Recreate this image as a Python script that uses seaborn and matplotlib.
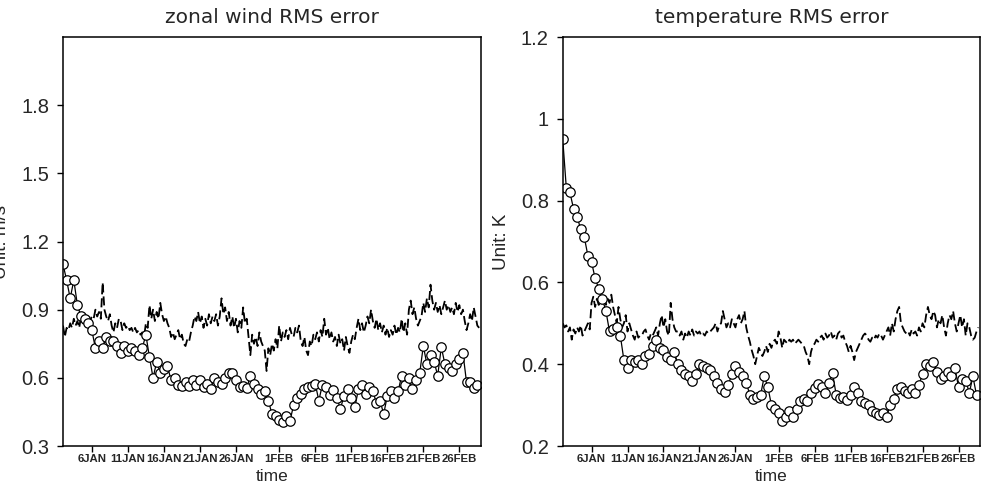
import pandas as pd
import matplotlib.pyplot as plt
import seaborn as sns

# time axis: forecasts (dashed) every 6h, analysis (circles) every 12h, from 2 Jan
start = "2001-01-02"
tick_dates = ["2001-01-06", "2001-01-11", "2001-01-16", "2001-01-21", "2001-01-26",
              "2001-02-01", "2001-02-06", "2001-02-11", "2001-02-16", "2001-02-21", "2001-02-26"]
tick_labels = ["6JAN", "11JAN", "16JAN", "21JAN", "26JAN",
               "1FEB", "6FEB", "11FEB", "16FEB", "21FEB", "26FEB"]

# zonal wind RMS error (m/s)
u_dash = [0.83, 0.78, 0.82, 0.81, 0.84, 0.82, 0.86, 0.83, 0.85, 0.82, 0.87, 0.84,
          0.86, 0.84, 0.88, 0.85, 0.87, 0.86, 0.90, 0.87, 0.89, 0.86, 1.02, 0.90,
          0.87, 0.85, 0.88, 0.83, 0.80, 0.84, 0.82, 0.86, 0.85, 0.81, 0.84, 0.82,
          0.83, 0.81, 0.82, 0.80, 0.82, 0.80, 0.81, 0.79, 0.80, 0.78, 0.84, 0.82,
          0.92, 0.86, 0.90, 0.85, 0.89, 0.86, 0.93, 0.88, 0.85, 0.87, 0.84, 0.82,
          0.78, 0.80, 0.77, 0.79, 0.81, 0.77, 0.79, 0.75, 0.74, 0.77, 0.76, 0.80,
          0.83, 0.87, 0.85, 0.89, 0.84, 0.87, 0.82, 0.86, 0.83, 0.88, 0.84, 0.87,
          0.85, 0.88, 0.83, 0.87, 0.95, 0.88, 0.91, 0.85, 0.89, 0.83, 0.87, 0.82,
          0.86, 0.80, 0.85, 0.82, 0.91, 0.84, 0.86, 0.78, 0.70, 0.79, 0.75, 0.78,
          0.74, 0.80, 0.76, 0.74, 0.72, 0.63, 0.73, 0.70, 0.75, 0.72, 0.77, 0.73,
          0.83, 0.76, 0.80, 0.78, 0.81, 0.77, 0.82, 0.79, 0.78, 0.82, 0.80, 0.83,
          0.76, 0.74, 0.78, 0.72, 0.70, 0.76, 0.74, 0.79, 0.77, 0.80, 0.76, 0.81,
          0.78, 0.86, 0.79, 0.82, 0.77, 0.80, 0.76, 0.78, 0.74, 0.79, 0.75, 0.77,
          0.72, 0.78, 0.74, 0.71, 0.76, 0.79, 0.77, 0.82, 0.86, 0.81, 0.84, 0.80,
          0.83, 0.87, 0.84, 0.90, 0.85, 0.82, 0.86, 0.81, 0.84, 0.80, 0.83, 0.79,
          0.82, 0.78, 0.81, 0.79, 0.83, 0.79, 0.82, 0.80, 0.86, 0.80, 0.84, 0.79,
          0.90, 0.94, 0.88, 0.91, 0.86, 0.83, 0.85, 0.87, 0.93, 0.89, 0.95, 0.91,
          1.01, 0.94, 0.90, 0.93, 0.89, 0.92, 0.88, 0.91, 0.94, 0.90, 0.92, 0.89,
          0.91, 0.88, 0.93, 0.89, 0.92, 0.88, 0.90, 0.85, 0.81, 0.84, 0.88, 0.85,
          0.91, 0.87, 0.83, 0.82]
u_circ = [1.10, 1.03, 0.95, 1.03, 0.92, 0.87, 0.86, 0.84, 0.81, 0.73,
          0.76, 0.73, 0.78, 0.76, 0.76, 0.74, 0.71, 0.74, 0.72, 0.73,
          0.72, 0.70, 0.73, 0.79, 0.69, 0.60, 0.67, 0.62, 0.64, 0.65,
          0.59, 0.60, 0.57, 0.565, 0.58, 0.565, 0.59, 0.57, 0.59, 0.56,
          0.575, 0.55, 0.60, 0.58, 0.575, 0.60, 0.62, 0.62, 0.59, 0.56,
          0.565, 0.555, 0.61, 0.575, 0.55, 0.53, 0.54, 0.50, 0.44, 0.43,
          0.415, 0.405, 0.43, 0.41, 0.48, 0.51, 0.53, 0.55, 0.56, 0.565,
          0.575, 0.50, 0.57, 0.56, 0.525, 0.545, 0.51, 0.465, 0.52, 0.55,
          0.51, 0.47, 0.55, 0.57, 0.53, 0.56, 0.54, 0.49, 0.50, 0.44,
          0.52, 0.54, 0.51, 0.54, 0.61, 0.57, 0.60, 0.55, 0.59, 0.62,
          0.74, 0.66, 0.70, 0.67, 0.61, 0.735, 0.66, 0.645, 0.63, 0.66,
          0.685, 0.71, 0.58, 0.58, 0.555, 0.57]

# temperature RMS error (K)
t_dash = [0.50, 0.49, 0.495, 0.48, 0.49, 0.46, 0.485, 0.475, 0.49, 0.48, 0.495, 0.47,
          0.48, 0.49, 0.50, 0.485, 0.55, 0.565, 0.54, 0.56, 0.545, 0.565, 0.55, 0.56,
          0.545, 0.56, 0.55, 0.57, 0.54, 0.52, 0.50, 0.54, 0.51, 0.49, 0.50, 0.52,
          0.48, 0.50, 0.485, 0.47, 0.46, 0.48, 0.465, 0.47, 0.47, 0.48, 0.485, 0.47,
          0.46, 0.475, 0.47, 0.48, 0.49, 0.47, 0.50, 0.52, 0.49, 0.51, 0.48, 0.47,
          0.55, 0.51, 0.49, 0.48, 0.48, 0.47, 0.48, 0.46, 0.475, 0.465, 0.48, 0.47,
          0.485, 0.47, 0.48, 0.475, 0.48, 0.47, 0.475, 0.47, 0.48, 0.475, 0.48, 0.485,
          0.49, 0.50, 0.48, 0.495, 0.50, 0.53, 0.51, 0.49, 0.50, 0.49, 0.51, 0.50,
          0.49, 0.51, 0.52, 0.50, 0.51, 0.53, 0.49, 0.47, 0.455, 0.435, 0.42, 0.40,
          0.42, 0.44, 0.43, 0.42, 0.43, 0.445, 0.43, 0.45, 0.44, 0.455, 0.46, 0.45,
          0.48, 0.465, 0.44, 0.46, 0.455, 0.45, 0.46, 0.455, 0.46, 0.45, 0.455, 0.46,
          0.455, 0.45, 0.445, 0.43, 0.42, 0.40, 0.43, 0.445, 0.45, 0.46, 0.455, 0.465,
          0.47, 0.46, 0.475, 0.465, 0.47, 0.48, 0.465, 0.47, 0.46, 0.475, 0.48, 0.465,
          0.47, 0.455, 0.445, 0.43, 0.445, 0.43, 0.41, 0.43, 0.44, 0.45, 0.46, 0.47,
          0.475, 0.47, 0.46, 0.455, 0.465, 0.46, 0.47, 0.465, 0.475, 0.47, 0.46, 0.47,
          0.48, 0.49, 0.47, 0.50, 0.48, 0.51, 0.53, 0.54, 0.50, 0.49, 0.48, 0.475,
          0.48, 0.47, 0.485, 0.475, 0.48, 0.47, 0.49, 0.48, 0.50, 0.49, 0.52, 0.54,
          0.52, 0.51, 0.53, 0.52, 0.49, 0.51, 0.50, 0.52, 0.49, 0.47, 0.50, 0.52,
          0.51, 0.53, 0.50, 0.48, 0.50, 0.52, 0.49, 0.51, 0.47, 0.50, 0.49, 0.47,
          0.46, 0.465, 0.48, 0.49]
t_circ = [0.95, 0.83, 0.82, 0.78, 0.76, 0.73, 0.71, 0.665, 0.65, 0.61,
          0.585, 0.56, 0.53, 0.48, 0.485, 0.49, 0.47, 0.41, 0.39, 0.41,
          0.405, 0.41, 0.40, 0.42, 0.425, 0.445, 0.46, 0.44, 0.435, 0.418,
          0.41, 0.43, 0.40, 0.385, 0.375, 0.37, 0.36, 0.375, 0.40, 0.395,
          0.39, 0.385, 0.37, 0.355, 0.34, 0.333, 0.35, 0.375, 0.395, 0.38,
          0.37, 0.355, 0.325, 0.316, 0.32, 0.325, 0.37, 0.345, 0.30, 0.29,
          0.28, 0.262, 0.272, 0.285, 0.27, 0.29, 0.31, 0.315, 0.31, 0.33,
          0.343, 0.352, 0.345, 0.33, 0.355, 0.378, 0.325, 0.318, 0.32, 0.312,
          0.325, 0.345, 0.33, 0.31, 0.305, 0.30, 0.285, 0.28, 0.276, 0.28,
          0.27, 0.30, 0.315, 0.34, 0.345, 0.335, 0.33, 0.34, 0.33, 0.35,
          0.375, 0.40, 0.395, 0.406, 0.382, 0.365, 0.37, 0.382, 0.37, 0.39,
          0.345, 0.365, 0.36, 0.33, 0.37, 0.325]

u_ticks = [0.3, 0.6, 0.9, 1.2, 1.5, 1.8]
u_ticklabels = ["0.3", "0.6", "0.9", "1.2", "1.5", "1.8"]
t_ticks = [0.2, 0.4, 0.6, 0.8, 1.0, 1.2]
t_ticklabels = ["0.2", "0.4", "0.6", "0.8", "1", "1.2"]

sns.set_style("ticks")
plt.rcParams["font.family"] = ["Liberation Sans", "DejaVu Sans"]

fig = plt.figure(figsize=(9.89, 4.98), dpi=100)
ax1 = fig.add_axes([0.0637, 0.1044, 0.4226, 0.8213])
ax2 = fig.add_axes([0.569, 0.1044, 0.422, 0.8213])

panels = [
    (ax1, u_dash, u_circ, "zonal wind RMS error", "Unit: m/s", (0.3, 2.1), u_ticks, u_ticklabels),
    (ax2, t_dash, t_circ, "temperature RMS error", "Unit: K", (0.2, 1.2), t_ticks, t_ticklabels),
]

for ax, dash, circ, title, ylab, ylim, yt, ytl in panels:
    df_dash = pd.DataFrame({"time": pd.date_range(start, periods=len(dash), freq="6h"),
                            "rms": dash})
    df_circ = pd.DataFrame({"time": pd.date_range(start, periods=len(circ), freq="12h"),
                            "rms": circ})
    sns.lineplot(data=df_dash, x="time", y="rms", ax=ax, color="black",
                 linewidth=1.3, linestyle=(0, (5, 2.2)))
    sns.lineplot(data=df_circ, x="time", y="rms", ax=ax, color="black",
                 linewidth=0.9, marker="o", markersize=6.8,
                 markerfacecolor="white", markeredgecolor="black", markeredgewidth=0.9)

    ax.set_xlim(pd.Timestamp("2001-01-02"), pd.Timestamp("2001-03-01"))
    ax.set_ylim(*ylim)
    ax.set_xticks(pd.to_datetime(tick_dates))
    ax.set_xticklabels(tick_labels, fontweight="bold", fontsize=8.2)
    ax.set_yticks(yt)
    ax.set_yticklabels(ytl, fontsize=14.5)
    ax.tick_params(direction="out", length=4, width=1.0, color="black", pad=2)
    ax.tick_params(axis="y", pad=6)
    for sp in ax.spines.values():
        sp.set_visible(True)
        sp.set_linewidth(1.1)
        sp.set_color("black")
    ax.set_title(title, fontsize=14.5, pad=10, family=["DejaVu Sans"])
    ax.set_xlabel("time", fontsize=12.5, labelpad=3)
    ax.set_ylabel(ylab, fontsize=13.5)
    ax.yaxis.set_label_coords(-0.127, 0.5)

fig.savefig("out.png", dpi=100)
